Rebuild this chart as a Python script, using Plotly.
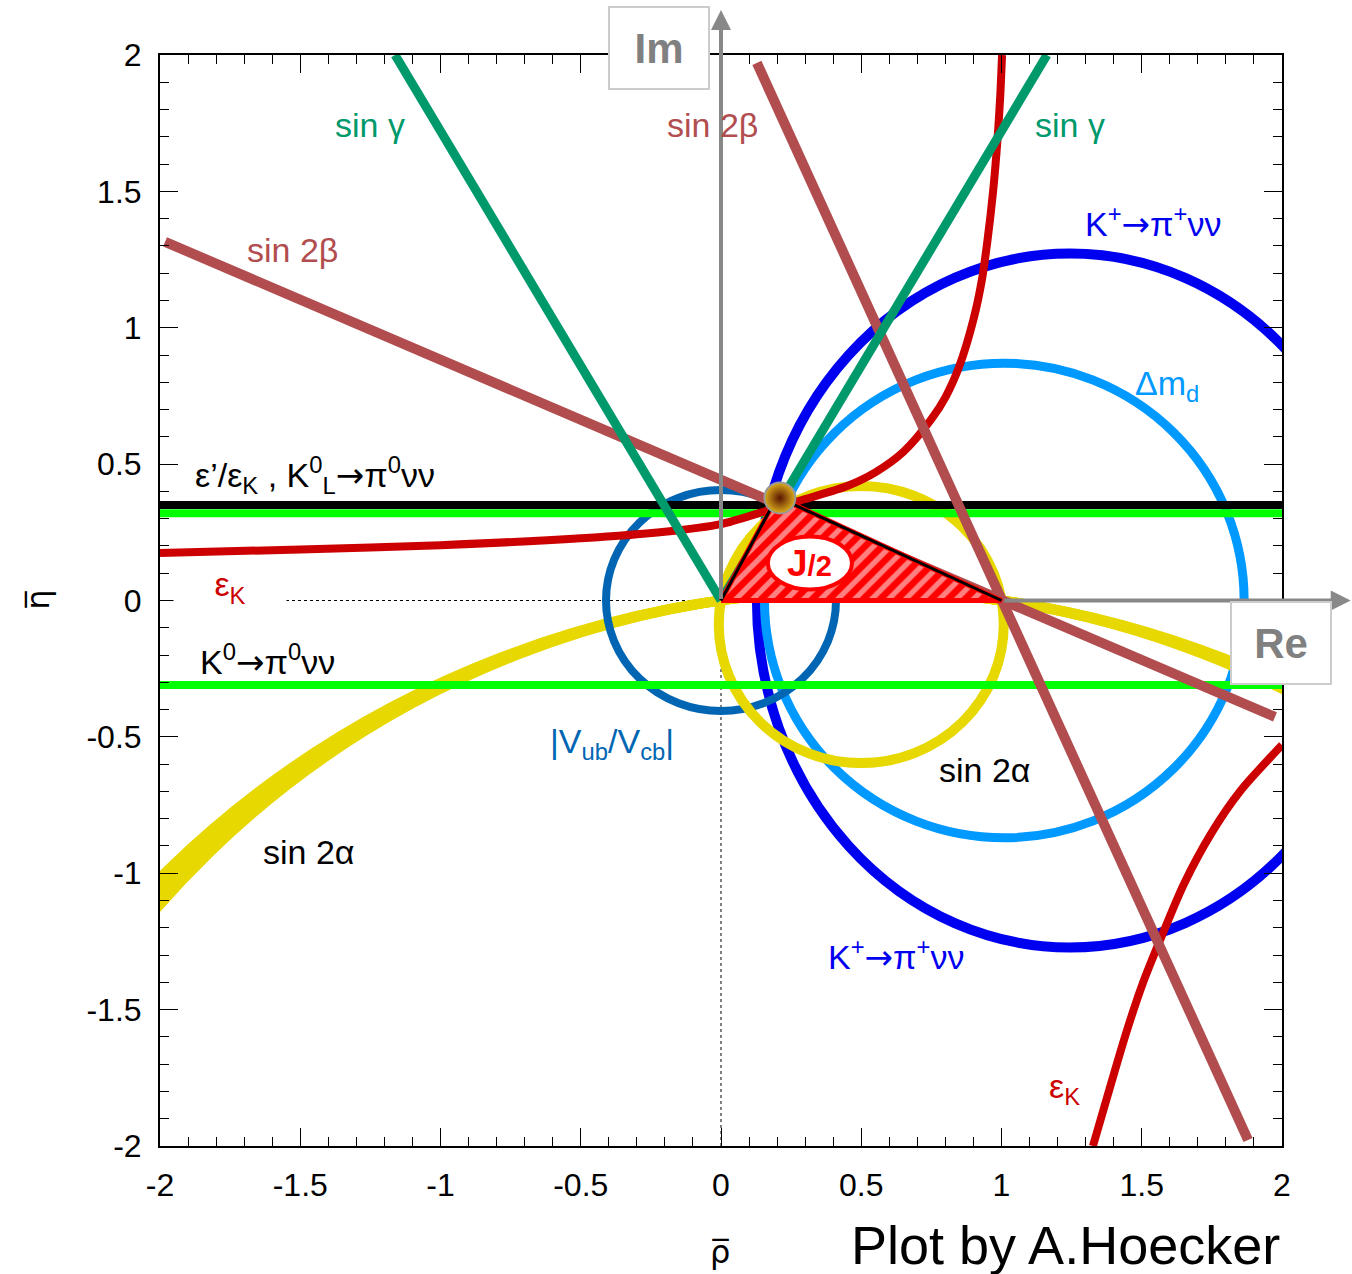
import plotly.graph_objects as go

# ---------------- axes ----------------
x_range = [-2, 2]
y_range = [-2, 2]
tick_vals = [-2, -1.5, -1, -0.5, 0, 0.5, 1, 1.5, 2]
tick_text = ["-2", "-1.5", "-1", "-0.5", "0", "0.5", "1", "1.5", "2"]

# ---------------- constraints ----------------
singamma_left_rho = [0.0, -1.162]
singamma_left_eta = [0.0, 2.0]
singamma_right_rho = [0.0, 1.162]
singamma_right_eta = [0.0, 2.0]

sin2beta_a_rho = [-1.982, 1.975]
sin2beta_a_eta = [1.315, -0.427]
sin2beta_b_rho = [0.128, 1.879]
sin2beta_b_eta = [1.971, -1.978]

epsprime_eta = 0.35
k0pinunu_upper_eta = 0.32
k0pinunu_lower_eta = -0.31

epsK_upper_rho = [-2.0, -1.5, -1.0, -0.5, -0.2, 0.0, 0.15, 0.30, 0.45, 0.55, 0.65, 0.75,
                  0.80, 0.85, 0.90, 0.93, 0.95, 0.97, 0.985, 0.995, 1.002]
epsK_upper_eta = [0.174, 0.187, 0.203, 0.228, 0.252, 0.280, 0.325, 0.372, 0.420, 0.470, 0.545,
                  0.665, 0.745, 0.860, 1.030, 1.175, 1.32, 1.50, 1.68, 1.84, 2.0]
epsK_lower_rho = [1.326, 1.387, 1.447, 1.504, 1.565, 1.65, 1.75, 1.85, 2.0]
epsK_lower_eta = [-2.0, -1.784, -1.577, -1.403, -1.246, -1.04, -0.85, -0.70, -0.53]

# ellipses: [centre rho, centre eta, semi-axis rho, semi-axis eta]
vub_circle = [0.0, 0.0, 0.41, 0.405]
dmd_circle = [1.01, 0.0, 0.855, 0.87]
kplus_ellipse = [1.244, 0.0, 1.116, 1.272]
sin2a_small_circle = [0.5, -0.088, 0.508, 0.508]
sin2a_big_centre_rho = 0.5
sin2a_big_centre_eta = [-3.25, -3.32, -3.39, -3.46]
sin2a_big_radius = [3.288, 3.3575, 3.4267, 3.4959]

triangle_rho = [0.0, 1.0, 0.2, 0.0]
triangle_eta = [0.0, 0.0, 0.38, 0.0]
apex_rho = [0.21]
apex_eta = [0.376]

# ---------------- colours ----------------
C_GAMMA = "#00996b"
C_BETA = "#b24d4f"
C_KPLUS = "#0000f0"
C_DMD = "#0099ff"
C_VUB = "#0066b3"
C_EPSK = "#cc0000"
C_YELLOW = "#e6d800"
C_GREEN = "#00ff00"
C_GRAY = "#888888"
FONT = "Liberation Sans, Arial, Helvetica, sans-serif"
ARROW = "<span style='font-family:DejaVu Sans'>→</span>"

fig = go.Figure()

shapes = []


def ellipse(p, color, width):
    cx, cy, rx, ry = p
    return dict(type="circle", xref="x", yref="y", x0=cx - rx, x1=cx + rx,
                y0=cy - ry, y1=cy + ry, line=dict(color=color, width=width), layer="below")


# dotted axes lines
shapes.append(dict(type="line", xref="x", yref="y", x0=-2, x1=0, y0=0, y1=0,
                   line=dict(color="black", width=1, dash="dot"), layer="below"))
shapes.append(dict(type="line", xref="x", yref="y", x0=0, x1=0, y0=-2, y1=0,
                   line=dict(color="black", width=1, dash="dot"), layer="below"))

shapes.append(ellipse(kplus_ellipse, C_KPLUS, 10))
shapes.append(ellipse(dmd_circle, C_DMD, 9))
for cy, r in zip(sin2a_big_centre_eta, sin2a_big_radius):
    shapes.append(ellipse([sin2a_big_centre_rho, cy, r, r], C_YELLOW, 10))
shapes.append(ellipse(vub_circle, C_VUB, 8))
shapes.append(ellipse(sin2a_small_circle, C_YELLOW, 10))

# horizontal constraints
for eta, col, w in [(epsprime_eta, "black", 8), (k0pinunu_upper_eta, C_GREEN, 8),
                    (k0pinunu_lower_eta, C_GREEN, 8)]:
    fig.add_trace(go.Scatter(x=x_range, y=[eta, eta], mode="lines",
                             line=dict(color=col, width=w), hoverinfo="skip"))

# epsilon_K hyperbola
for xs, ys in [(epsK_upper_rho, epsK_upper_eta), (epsK_lower_rho, epsK_lower_eta)]:
    fig.add_trace(go.Scatter(x=xs, y=ys, mode="lines",
                             line=dict(color=C_EPSK, width=8, shape="spline", smoothing=0.8),
                             hoverinfo="skip"))

# sin 2beta
for xs, ys in [(sin2beta_a_rho, sin2beta_a_eta), (sin2beta_b_rho, sin2beta_b_eta)]:
    fig.add_trace(go.Scatter(x=xs, y=ys, mode="lines", line=dict(color=C_BETA, width=10),
                             hoverinfo="skip"))

# sin gamma
for xs, ys in [(singamma_left_rho, singamma_left_eta), (singamma_right_rho, singamma_right_eta)]:
    fig.add_trace(go.Scatter(x=xs, y=ys, mode="lines", line=dict(color=C_GAMMA, width=9),
                             hoverinfo="skip"))

# unitarity triangle
fig.add_trace(go.Scatter(x=triangle_rho, y=triangle_eta, mode="lines", fill="toself",
                         fillcolor="red",
                         fillpattern=dict(shape="/", fgcolor="white", bgcolor="red",
                                          size=12, solidity=0.45),
                         line=dict(color="red", width=5), hoverinfo="skip"))
fig.add_trace(go.Scatter(x=[triangle_rho[0], triangle_rho[2], triangle_rho[1]],
                         y=[triangle_eta[0], triangle_eta[2], triangle_eta[1]],
                         mode="lines", line=dict(color="black", width=3), hoverinfo="skip"))
fig.add_trace(go.Scatter(x=apex_rho, y=apex_eta, mode="markers",
                         marker=dict(size=31, color="#dcae1d",
                                     gradient=dict(type="radial", color="#5a1400"),
                                     line=dict(color="#999999", width=2)),
                         hoverinfo="skip"))

# J/2 ellipse
shapes.append(dict(type="circle", xref="x", yref="y", x0=0.167, x1=0.467, y0=0.04, y1=0.235,
                   fillcolor="white", line=dict(color="red", width=4), layer="above"))

annotations = []
annotations.append(dict(x=0.317, y=0.137, xref="x", yref="y", showarrow=False,
                        xanchor="center", yanchor="middle",
                        text="<b>J</b><b><span style='font-size:29px'>/2</span></b>",
                        font=dict(family=FONT, size=37, color="red")))

# gray Re / Im arrows
annotations.append(dict(x=2.245, y=0, ax=1.005, ay=0, xref="x", yref="y", axref="x", ayref="y",
                        showarrow=True, arrowhead=2, arrowsize=1, arrowwidth=4,
                        arrowcolor=C_GRAY, text=""))
annotations.append(dict(x=0, y=2.165, ax=0, ay=0, xref="x", yref="y", axref="x", ayref="y",
                        showarrow=True, arrowhead=2, arrowsize=1, arrowwidth=4,
                        arrowcolor=C_GRAY, text=""))

# Im / Re boxes
for txt, px, py in [("<b>Im</b>", 0.4447, 1.0064), ("<b>Re</b>", 0.99955, 0.461)]:
    annotations.append(dict(x=px, y=py, xref="paper", yref="paper", showarrow=False,
                            xanchor="center", yanchor="middle",
                            text=txt, width=96, height=78, bgcolor="white",
                            bordercolor="#cccccc", borderwidth=2,
                            font=dict(family=FONT, size=42, color="#808080")))

# constraint labels
labels = [
    ("sin γ", -1.251, 1.743, C_GAMMA),
    ("sin γ", 1.244, 1.743, C_GAMMA),
    ("sin 2β", -0.029, 1.743, C_BETA),
    ("sin 2β", -1.526, 1.285, C_BETA),
    ("K<sup>+</sup>" + ARROW + "π<sup>+</sup>νν", 1.54, 1.388, C_KPLUS),
    ("K<sup>+</sup>" + ARROW + "π<sup>+</sup>νν", 0.624, -1.30, C_KPLUS),
    ("Δm<sub>d</sub>", 1.59, 0.79, C_DMD),
    ("ε’/ε<sub>K</sub> , K<sup>0</sup><sub>L</sub>" + ARROW + "π<sup>0</sup>νν", -1.447, 0.46, "black"),
    ("K<sup>0</sup>" + ARROW + "π<sup>0</sup>νν", -1.615, -0.218, "black"),
    ("|V<sub>ub</sub>/V<sub>cb</sub>|", -0.389, -0.525, C_VUB),
    ("sin 2α", 0.941, -0.621, "black"),
    ("sin 2α", -1.472, -0.922, "black"),
    ("ε<sub>K</sub>", 1.226, -1.79, C_EPSK),
]
for txt, x, y, col in labels:
    annotations.append(dict(x=x, y=y, xref="x", yref="y", showarrow=False, text=txt,
                            xanchor="center", yanchor="middle",
                            font=dict(family=FONT, size=34, color=col)))
annotations.append(dict(x=-1.75, y=0.05, xref="x", yref="y", showarrow=False,
                        xanchor="center", yanchor="middle",
                        text="ε<sub>K</sub>", width=110, height=40, bgcolor="white",
                        font=dict(family=FONT, size=34, color=C_EPSK)))

# axis titles and credit
annotations.append(dict(x=0.499, y=-0.0975, xref="paper", yref="paper", showarrow=False,
                        xanchor="center", yanchor="middle",
                        text="ρ\u0305", font=dict(family="DejaVu Sans", size=32, color="black")))
annotations.append(dict(x=-0.109, y=0.5005, xref="paper", yref="paper", showarrow=False,
                        xanchor="center", yanchor="middle",
                        text="η\u0305", textangle=-90,
                        font=dict(family="DejaVu Sans", size=32, color="black")))
annotations.append(dict(x=1.0, y=-0.0907, xref="paper", yref="paper", showarrow=False,
                        xanchor="right", yanchor="middle", text="Plot by A.Hoecker",
                        font=dict(family=FONT, size=54, color="black")))

axis_common = dict(tickmode="array", tickvals=tick_vals, ticktext=tick_text,
                   ticks="inside", ticklen=18, tickwidth=1, tickcolor="black",
                   showline=True, linecolor="black", linewidth=2, mirror="ticks",
                   showgrid=False, zeroline=False,
                   tickfont=dict(family=FONT, size=32, color="black"),
                   minor=dict(ticks="inside", ticklen=9, tickmode="linear", tick0=0, dtick=0.1,
                              tickcolor="black", tickwidth=1, showgrid=False))

fig.update_xaxes(range=x_range, ticklabelstandoff=10, **axis_common)
fig.update_yaxes(range=y_range, ticklabelstandoff=10, **axis_common)

fig.update_layout(width=1352, height=1274, margin=dict(l=160, r=70, t=55, b=128),
                  plot_bgcolor="white", paper_bgcolor="white", showlegend=False,
                  shapes=shapes, annotations=annotations,
                  font=dict(family=FONT))

fig.write_html("out.html")
